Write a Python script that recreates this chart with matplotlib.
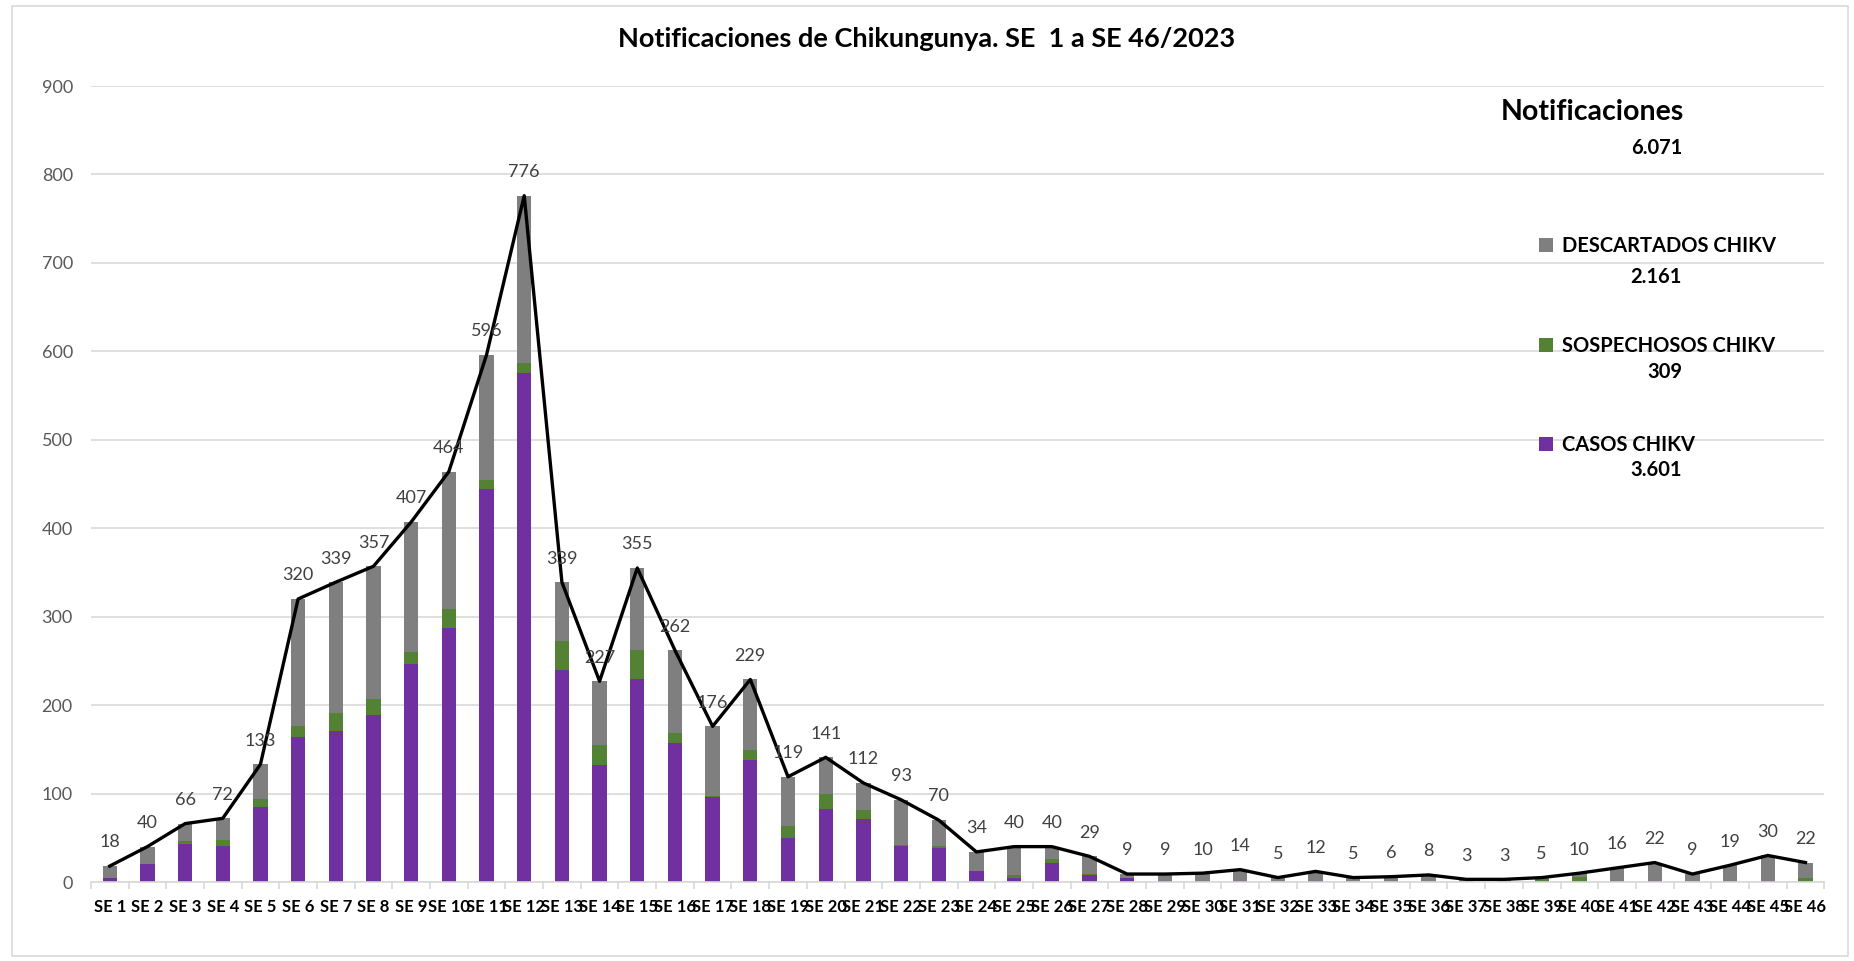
import matplotlib.pyplot as plt
import numpy as np
from matplotlib.patches import Rectangle

plt.rcParams['font.family'] = ['Lato', 'DejaVu Sans']

semanas = ['SE %d' % i for i in range(1, 47)]

# casos confirmados (morado), sospechosos (verde), descartados (gris)
casos = [4, 20, 43, 41, 85, 164, 171, 189, 247, 287, 444, 576, 240, 132, 229, 157,
         96, 138, 50, 83, 71, 41, 38, 12, 4, 22, 8, 4, 1, 0, 1, 0, 1, 0, 0, 0,
         0, 0, 0, 0, 0, 1, 0, 0, 1, 0]
sospechosos = [1, 0, 3, 6, 9, 12, 20, 18, 13, 22, 11, 11, 32, 23, 33, 11,
               1, 11, 13, 17, 10, 1, 3, 1, 4, 4, 1, 0, 0, 1, 0, 0, 0, 0, 1, 0,
               0, 0, 3, 6, 1, 0, 0, 1, 0, 4]
descartados = [13, 20, 20, 25, 39, 144, 148, 150, 147, 155, 141, 189, 67, 72, 93, 94,
               79, 80, 56, 41, 31, 51, 29, 21, 32, 14, 20, 5, 8, 9, 13, 5, 11, 5, 5, 8,
               3, 3, 2, 4, 15, 21, 9, 18, 29, 18]
notificaciones = [18, 40, 66, 72, 133, 320, 339, 357, 407, 464, 596, 776, 339, 227, 355, 262,
                  176, 229, 119, 141, 112, 93, 70, 34, 40, 40, 29, 9, 9, 10, 14, 5, 12, 5, 6, 8,
                  3, 3, 5, 10, 16, 22, 9, 19, 30, 22]

fig = plt.figure(figsize=(18.54, 9.61), dpi=100)
fig.patches.append(Rectangle((12 / 1854, 5 / 961), 1836 / 1854, 950 / 961, transform=fig.transFigure,
                             fill=False, edgecolor='#D9D9D9', linewidth=1.2))
ax = fig.add_axes([0.049, 0.0822, 0.935, 0.8283])

x = np.arange(len(semanas))
c = np.array(casos)
s = np.array(sospechosos)
d = np.array(descartados)
w = 0.38
b1 = ax.bar(x, c, w, color='#7030A0', label='CASOS CHIKV', zorder=2)
b2 = ax.bar(x, s, w, bottom=c, color='#548235', label='SOSPECHOSOS CHIKV', zorder=2)
b3 = ax.bar(x, d, w, bottom=c + s, color='#7F7F7F', label='DESCARTADOS CHIKV', zorder=2)
ax.plot(x, notificaciones, color='black', linewidth=2.4, zorder=3)

for xi, v in zip(x, notificaciones):
    ax.annotate(str(v), (xi, v), xytext=(0, 17), textcoords='offset points',
                ha='center', va='center', fontsize=13, color='#404040', zorder=4)

ax.set_xlim(-0.5, 45.5)
ax.set_ylim(0, 900)
ax.set_yticks(range(0, 901, 100))
ax.yaxis.grid(True, color='#D9D9D9', linewidth=1.2, zorder=0)
ax.set_axisbelow(True)
for sp in ['top', 'right', 'left']:
    ax.spines[sp].set_visible(False)
ax.spines['bottom'].set_color('#D9D9D9')
ax.spines['bottom'].set_linewidth(1.2)

ax.set_xticks(x)
ax.set_xticklabels(semanas, fontsize=12, fontweight='bold', color='black')
ax.set_xticks(np.arange(-0.5, 46, 1), minor=True)
ax.tick_params(axis='x', which='major', length=0, pad=12)
ax.tick_params(axis='x', which='minor', length=5, color='#D9D9D9', width=1.2)
ax.tick_params(axis='y', length=0, pad=13, labelsize=13, labelcolor='#595959')

fig.text(0.5, 0.959, 'Notificaciones de Chikungunya. SE  1 a SE 46/2023', ha='center', va='center',
         fontsize=19.5, fontweight='bold')

leg = fig.legend(handles=[b3, b2, b1], loc='upper left', bbox_to_anchor=(1521 / 1854, 1 - 218 / 961),
                 frameon=False, prop={'size': 14.5, 'weight': 'bold'}, labelspacing=3.95,
                 handlelength=0.7, handleheight=0.7, handletextpad=0.45)

fig.text(1684 / 1854, 1 - 112 / 961, 'Notificaciones', ha='right', va='center', fontsize=20.5, fontweight='bold')
fig.text(1682 / 1854, 1 - 148 / 961, '6.071', ha='right', va='center', fontsize=14.5, fontweight='bold')
fig.text(1682 / 1854, 1 - 277 / 961, '2.161', ha='right', va='center', fontsize=14.5, fontweight='bold')
fig.text(1682 / 1854, 1 - 372 / 961, '309', ha='right', va='center', fontsize=14.5, fontweight='bold')
fig.text(1682 / 1854, 1 - 470 / 961, '3.601', ha='right', va='center', fontsize=14.5, fontweight='bold')

fig.savefig('out.png', dpi=100)
